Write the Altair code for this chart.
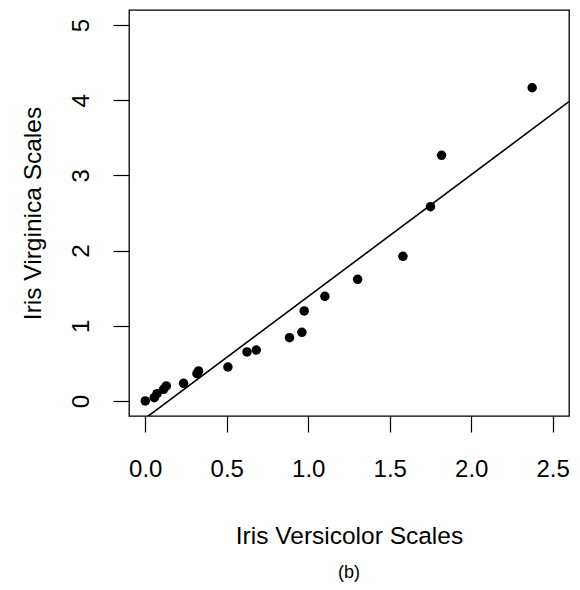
import altair as alt
import pandas as pd

# Paired scale values: Iris versicolor (x) against Iris virginica (y)
versicolor = [0.000, 0.055, 0.072, 0.112, 0.129, 0.235, 0.317, 0.327, 0.507, 0.624,
              0.681, 0.885, 0.961, 0.975, 1.102, 1.303, 1.581, 1.750, 1.818, 2.374]
virginica = [0.000, 0.044, 0.097, 0.155, 0.200, 0.235, 0.363, 0.400, 0.452, 0.652,
             0.678, 0.842, 0.913, 1.197, 1.392, 1.618, 1.924, 2.584, 3.267, 4.166]

# Fitted reference line y = a + b * x
line_intercept = -0.23
line_slope = 1.62
line_x = [-0.1, 2.6]

x_ticks = [0.0, 0.5, 1.0, 1.5, 2.0, 2.5]
y_ticks = [0, 1, 2, 3, 4, 5]

points = pd.DataFrame({"versicolor": versicolor, "virginica": virginica})
fit = pd.DataFrame({"versicolor": line_x,
                    "virginica": [line_intercept + line_slope * v for v in line_x]})

FONT = "Liberation Sans"

x_enc = alt.X(
    "versicolor:Q",
    scale=alt.Scale(domain=[-0.1, 2.6], nice=False, zero=False),
    axis=alt.Axis(
        title="Iris Versicolor Scales",
        values=x_ticks,
        format=".1f",
        grid=False,
        domain=False,
        tickSize=16,
        tickColor="black",
        tickWidth=1.2,
        labelFontSize=24,
        labelColor="black",
        labelPadding=25,
        labelFont=FONT,
        titleFont=FONT,
        titleFontSize=24.5,
        titleFontWeight="normal",
        titleColor="black",
        titlePadding=43,
    ),
)
y_enc = alt.Y(
    "virginica:Q",
    scale=alt.Scale(domain=[-0.2, 5.2], nice=False, zero=False),
    axis=alt.Axis(
        title="Iris Virginica Scales",
        values=y_ticks,
        format="d",
        grid=False,
        domain=False,
        tickSize=16,
        tickColor="black",
        tickWidth=1.2,
        labelFontSize=24,
        labelColor="black",
        labelAngle=270,
        labelAlign="center",
        labelBaseline="bottom",
        labelPadding=20,
        labelFont=FONT,
        titleFont=FONT,
        titleFontSize=24.5,
        titleFontWeight="normal",
        titleColor="black",
        titlePadding=24,
    ),
)

dots = alt.Chart(points).mark_circle(color="black", opacity=1, size=90).encode(x=x_enc, y=y_enc)
reg = alt.Chart(fit).mark_line(color="black", strokeWidth=1.6, clip=True).encode(
    x="versicolor:Q", y="virginica:Q"
)

chart = (
    alt.layer(reg, dots)
    .properties(
        width=440,
        height=406,
        background="white",
        autosize=alt.AutoSizeParams(type="none"),
        padding={"left": 129, "top": 10, "right": 11, "bottom": 174},
        title=alt.TitleParams(
            text="(b)",
            orient="bottom",
            anchor="middle",
            fontSize=18,
            fontWeight="normal",
            font=FONT,
            color="black",
            offset=16,
        ),
    )
    .configure_view(stroke="black", strokeWidth=1.3)
)

chart.save("out.html", embed_options={"renderer": "svg", "actions": False})
